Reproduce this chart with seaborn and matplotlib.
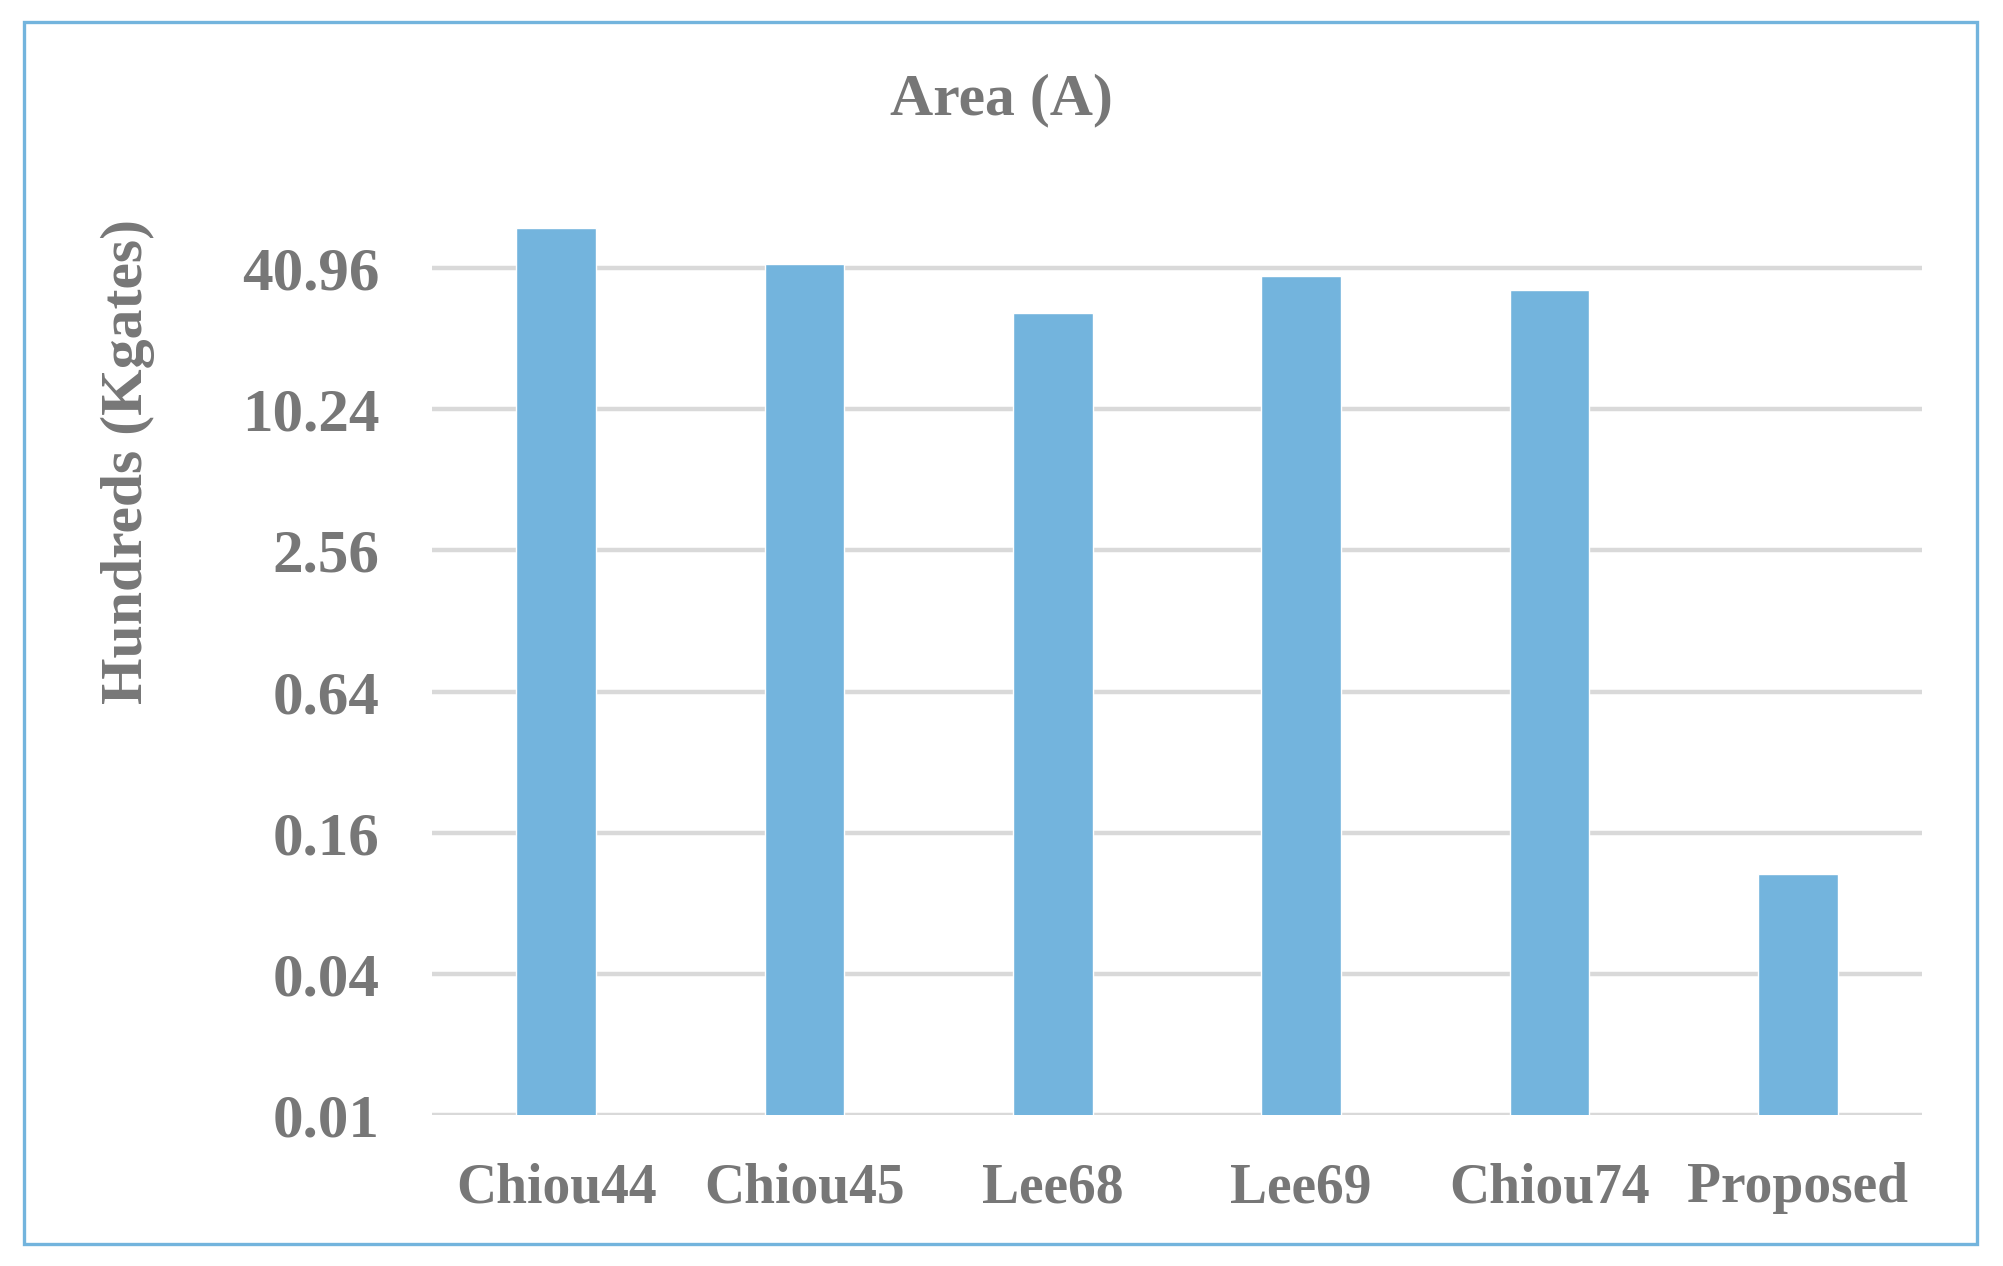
import matplotlib
matplotlib.use("Agg")
import matplotlib.pyplot as plt
from matplotlib.patches import Rectangle
import seaborn as sns
import pandas as pd

# values (log base 4 axis)
designs = ["Chiou44", "Chiou45", "Lee68", "Lee69", "Chiou74", "Proposed"]
area = [60.5, 42.5, 26.3, 37.8, 32.9, 0.107]
tickValues = [0.01, 0.04, 0.16, 0.64, 2.56, 10.24, 40.96]
tickLabels = ["0.01", "0.04", "0.16", "0.64", "2.56", "10.24", "40.96"]

barColor = "#73B4DD"
textColor = "#777777"
gridColor = "#D9D9D9"

sns.set_style("white")
plt.rcParams['font.family'] = ['Liberation Serif', 'DejaVu Serif']
plt.rcParams['font.weight'] = 'bold'

df = pd.DataFrame({'Design': designs, 'Area': area})

fig = plt.figure(figsize=(20.03, 12.66), dpi=100, facecolor='w')
ax = fig.add_axes([0.2157, 0.1193, 0.9596 - 0.2157, 0.8997 - 0.1193])
ax.set_yscale('log', base=4)
ax.set_ylim(0.01, 163.84)

sns.barplot(x="Design", y="Area", data=df, color=barColor, width=0.32,
            saturation=1, ax=ax, zorder=3)
ax.set_xlim(-0.5, 5.5)
ax.set_ylim(0.01, 163.84)

ax.yaxis.set_major_locator(matplotlib.ticker.FixedLocator(tickValues))
ax.yaxis.set_minor_locator(matplotlib.ticker.NullLocator())
ax.set_yticklabels(tickLabels)
ax.grid(axis='y', color=gridColor, linewidth=3.2, zorder=0)
ax.set_axisbelow(True)
ax.tick_params(axis='y', length=0, pad=38, labelsize=44, labelcolor=textColor)
ax.tick_params(axis='x', length=0, pad=34, labelsize=40, labelcolor=textColor)
for lbl in ax.get_xticklabels() + ax.get_yticklabels():
    lbl.set_fontweight('bold')
for s in ax.spines.values():
    s.set_visible(False)

ax.set_xlabel("")
ax.set_ylabel("")
fig.text(128 / 2003, 1 - 461 / 1266, "Hundreds (Kgates)", rotation=90, ha='center', va='center',
         fontsize=43, fontweight='bold', color=textColor)
fig.text(1001 / 2003, 1 - 100 / 1266, "Area (A)", ha='center', va='center',
         fontsize=43, fontweight='bold', color=textColor)

# outer chart frame
fig.patches.append(Rectangle((24 / 2003, 1 - 1244 / 1266), (1977 - 24) / 2003, (1244 - 22) / 1266,
                             transform=fig.transFigure, fill=False, edgecolor=barColor, linewidth=2.4))

plt.savefig("out.png", dpi=100, facecolor='w')
